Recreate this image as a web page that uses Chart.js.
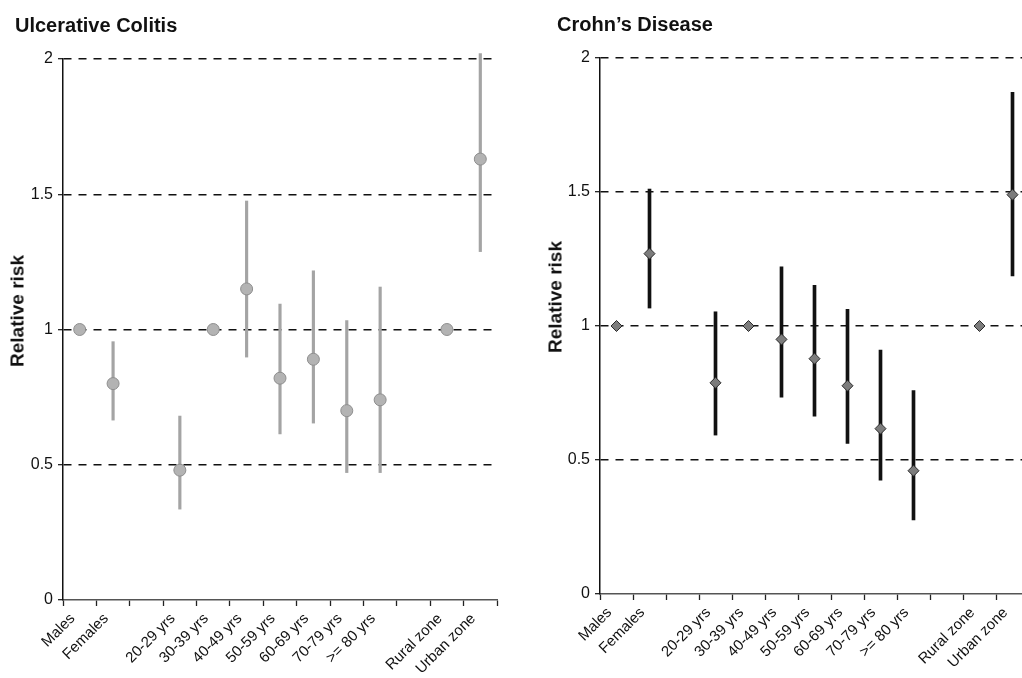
<!DOCTYPE html>
<html lang="en">
<head>
    <meta charset="UTF-8">
    <title>Relative risk - Ulcerative Colitis / Crohn's Disease</title>
    <script src="https://cdn.jsdelivr.net/npm/chart.js@4.4.0/dist/chart.umd.min.js"></script>
    <style>
        html, body {
            margin: 0;
            padding: 0;
            overflow: hidden;
            background-color: #fff;
        }
        body {
            width: 1022px;
            height: 678px;
            position: relative;
            font-family: 'Liberation Sans', Arial, sans-serif;
            color: #111;
        }
        .panel {
            position: absolute;
            top: 0;
            height: 678px;
        }
        #leftPanel { left: 0; width: 520px; }
        /* right panel runs past the window edge, like the clipped original */
        #rightPanel { left: 520px; width: 540px; }
        .panel-title {
            position: absolute;
            font-weight: bold;
            font-size: 20px;
            line-height: 20px;
            white-space: nowrap;
            z-index: 2;
        }
        .axis-title {
            position: absolute;
            font-weight: bold;
            font-size: 19px;
            line-height: 19px;
            white-space: nowrap;
            transform: translate(-50%, -50%) rotate(-90deg);
            z-index: 2;
        }
    </style>
</head>
<body>

    <div class="panel-title" style="left:15px; top:15px;">Ulcerative Colitis</div>
    <div class="panel-title" style="left:557px; top:14px;">Crohn’s Disease</div>
    <div class="axis-title" style="left:17px; top:311px;">Relative risk</div>
    <div class="axis-title" style="left:555px; top:297px;">Relative risk</div>

    <div class="panel" id="leftPanel"><canvas id="ucChart"></canvas></div>
    <div class="panel" id="rightPanel"><canvas id="cdChart"></canvas></div>

    <script>
        // categories (empty strings are the spacer slots of the original)
        const categories = ['Males', 'Females', '', '20-29 yrs', '30-39 yrs', '40-49 yrs', '50-59 yrs',
                            '60-69 yrs', '70-79 yrs', '>= 80 yrs', '', 'Rural zone', 'Urban zone'];
        const yTicks = [0, 0.5, 1, 1.5, 2];

        // Ulcerative colitis: relative risk and 95% CI
        const ucRisk = [1, 0.80, null, 0.48, 1, 1.15, 0.82, 0.89, 0.70, 0.74, null, 1, 1.63];
        const ucLow  = [null, 0.665, null, 0.336, null, 0.898, 0.614, 0.654, 0.471, 0.471, null, null, 1.288];
        const ucHigh = [null, 0.955, null, 0.68, null, 1.475, 1.094, 1.217, 1.033, 1.157, null, null, 2.02];

        // Crohn's disease: relative risk and 95% CI
        const cdRisk = [1, 1.27, null, 0.788, 1, 0.95, 0.878, 0.777, 0.617, 0.46, null, 1, 1.49];
        const cdLow  = [null, 1.067, null, 0.593, null, 0.734, 0.664, 0.562, 0.425, 0.276, null, null, 1.187];
        const cdHigh = [null, 1.511, null, 1.053, null, 1.221, 1.152, 1.062, 0.910, 0.759, null, null, 1.872];

        const fontFamily = "'Liberation Sans', Arial, sans-serif";

        function buildChart(canvasId, risk, low, high, look) {
            var ctx = document.getElementById(canvasId).getContext('2d');
            return new Chart(ctx, {
                type: 'bar',
                data: {
                    labels: categories,
                    datasets: [{
                        type: 'line',
                        data: risk,
                        showLine: false,
                        pointStyle: look.pointStyle,
                        pointRadius: look.pointRadius,
                        pointBackgroundColor: look.pointFill,
                        pointBorderColor: look.pointBorder,
                        pointBorderWidth: 1,
                        order: 0,
                        clip: false
                    }, {
                        // confidence intervals as thin floating bars
                        type: 'bar',
                        data: low.map((v, i) => v === null ? null : [v, high[i]]),
                        backgroundColor: look.barColor,
                        borderWidth: 0,
                        barThickness: look.barWidth,
                        order: 1,
                        clip: false
                    }]
                },
                options: {
                    responsive: true,
                    maintainAspectRatio: false,
                    animation: false,
                    layout: {
                        padding: { top: look.top, right: look.padRight, bottom: 0, left: 0 }
                    },
                    plugins: {
                        legend: { display: false },
                        tooltip: { enabled: false },
                        title: { display: false }
                    },
                    scales: {
                        x: {
                            type: 'category',
                            offset: true,
                            grid: {
                                offset: true,
                                drawOnChartArea: false,
                                drawTicks: true,
                                tickLength: 6,
                                tickColor: '#222',
                                tickWidth: 1.3
                            },
                            border: { color: '#555', width: 1.5 },
                            ticks: {
                                autoSkip: false,
                                maxRotation: 45,
                                minRotation: 45,
                                padding: 4,
                                labelOffset: -7,
                                color: '#111',
                                font: { family: fontFamily, size: 15 }
                            },
                            afterFit: function (scale) { scale.height = look.xHeight; }
                        },
                        y: {
                            type: 'linear',
                            min: 0,
                            max: 2,
                            afterBuildTicks: function (scale) {
                                scale.ticks = yTicks.map(v => ({ value: v }));
                            },
                            grid: {
                                color: c => (c.tick && c.tick.value === 0) ? 'rgba(0,0,0,0)' : '#111',
                                lineWidth: 1.4,
                                tickColor: '#111',
                                tickLength: 5,
                                tickWidth: 1.2
                            },
                            border: { color: '#111', width: 1.5, dash: [8, 7] },
                            ticks: {
                                padding: 5,
                                color: '#111',
                                font: { family: fontFamily, size: 16 },
                                callback: v => String(v)
                            },
                            afterFit: function (scale) { scale.width = look.yWidth; }
                        }
                    }
                }
            });
        }

        var ucChart = buildChart('ucChart', ucRisk, ucLow, ucHigh, {
            pointStyle: 'circle', pointRadius: 6, pointFill: '#b3b3b3', pointBorder: '#8e8e8e',
            barColor: '#a4a4a4', barWidth: 2.5,
            top: 59, padRight: 23, xHeight: 78, yWidth: 63
        });

        var cdChart = buildChart('cdChart', cdRisk, cdLow, cdHigh, {
            pointStyle: 'rectRot', pointRadius: 5.5, pointFill: '#7c7c7c', pointBorder: '#2a2a2a',
            barColor: '#111', barWidth: 3,
            top: 58, padRight: 31, xHeight: 84, yWidth: 80
        });
    </script>

</body>
</html>
